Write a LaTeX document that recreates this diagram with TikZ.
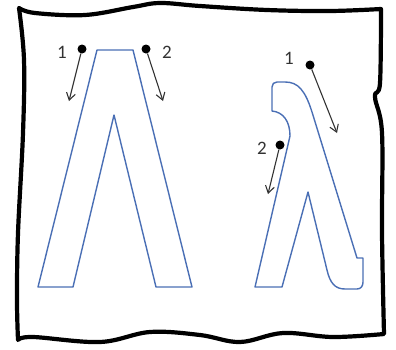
\documentclass[tikz,border=0pt]{standalone}
\usepackage{fontspec}
\setmainfont{Carlito}
\usepackage{tikz}
\usetikzlibrary{arrows.meta,positioning}
\definecolor{glyphcol}{HTML}{4A6FB5}
\definecolor{strokecol}{HTML}{333333}

\begin{document}
\begin{tikzpicture}[x=1pt,y=-1pt,
  glyph/.style={draw=glyphcol, line width=1.4pt, line join=round, fill=white},
  frame/.style={draw=black, line width=4.2pt, line join=round},
  dot/.style={circle, fill=black, inner sep=0pt, minimum size=9pt},
  stroke/.style={-{Straight Barb[length=7pt,width=9pt]}, line width=1.1pt, color=strokecol},
  num/.style={font=\fontsize{19}{19}\selectfont, text=strokecol, inner sep=0pt}
]
  \useasboundingbox (0,0) rectangle (396,349);

  % hand drawn frame, one wobbly run per side
  \draw[frame] plot[smooth, tension=0.6] coordinates {
      (19,8) (35,13) (85,15) (133,7) (160,3) (200,6) (267,10) (330,11) (381,9)}
    -- plot[smooth, tension=0.6] coordinates {
      (381,9) (380,83) (375,97) (382,133) (382,233) (384,334)}
    -- plot[smooth, tension=0.6] coordinates {
      (384,334) (333,337) (283,333) (240,342) (200,335) (150,332) (100,342) (33,337) (18,340)}
    -- plot[smooth, tension=0.6] coordinates {
      (18,340) (17,300) (18,233) (23,133) (24,60) (19,8)}
    -- cycle;

  % capital lambda
  \draw[glyph] (97,50) -- (133,50) -- (192,287) -- (156,287) -- (114,115)
    -- (73,287) -- (38,287) -- cycle;

  % small lambda
  \draw[glyph] (272,87) -- (272,111) .. controls (283,112) and (290,121) .. (290,136)
    -- (255,287) -- (282,287) -- (308,192) -- (327,270)
    .. controls (330,283) and (335,289) .. (345,289) -- (357,289)
    .. controls (361,289) and (363,286) .. (363,282) -- (363,258) -- (357,258)
    -- (312,112) .. controls (305,90) and (298,82) .. (285,82) -- (277,82)
    .. controls (274,82) and (272,84) .. (272,87) -- cycle;

  % strokes for capital lambda
  \node[dot] (capa) at (82,49) {};
  \node[dot] (capb) at (146,49) {};
  \node[num] (capalbl) at (62,52) {1};
  \node[num] (capblbl) at (167,52) {2};
  \coordinate (capaend) at (69,101);
  \coordinate (capbend) at (163,101);
  \draw[stroke] (capa) -- (capaend);
  \draw[stroke] (capb) -- (capbend);

  % strokes for small lambda
  \node[dot] (sma) at (310,65) {};
  \node[dot] (smb) at (280,145) {};
  \node[num] (smalbl) at (289,58) {1};
  \node[num] (smblbl) at (262,148) {2};
  \coordinate (smaend) at (337,133);
  \coordinate (smbend) at (268,194);
  \draw[stroke] (sma) -- (smaend);
  \draw[stroke] (smb) -- (smbend);
\end{tikzpicture}
\end{document}
